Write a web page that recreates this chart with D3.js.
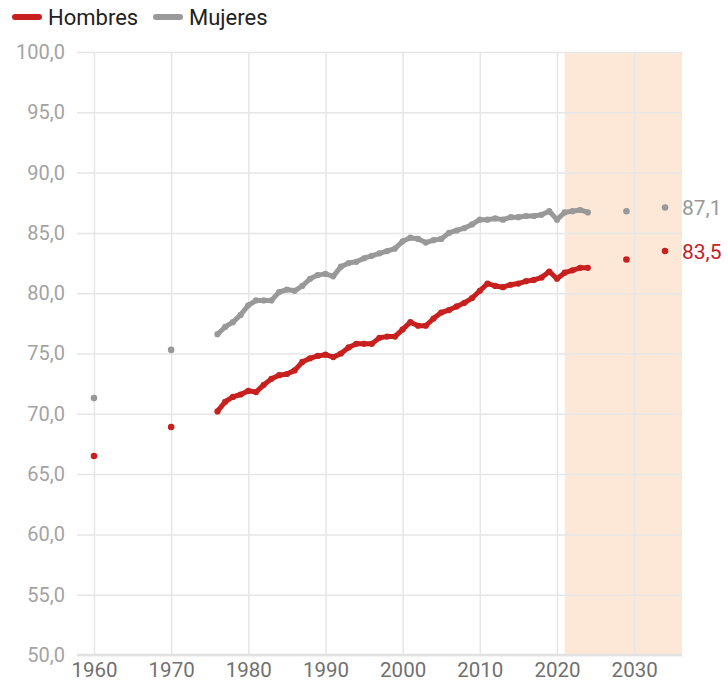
<!DOCTYPE html>
<html>
<head>
<meta charset="utf-8">
<script src="https://cdn.jsdelivr.net/npm/d3@7"></script>
<style>
  body { margin: 0; background: #fff; font-family: Roboto, "Noto Sans", sans-serif; }
</style>
</head>
<body>
<div id="chart"></div>
<script>
// Years of the continuous series
var years = d3.range(1976, 2025);
var hombres = [70.2, 71.0, 71.4, 71.6, 71.9, 71.8, 72.4, 72.9, 73.2, 73.3,
  73.6, 74.3, 74.6, 74.8, 74.9, 74.7, 75.0, 75.5, 75.8, 75.8,
  75.8, 76.3, 76.4, 76.4, 77.0, 77.6, 77.3, 77.3, 77.9, 78.4,
  78.6, 78.9, 79.2, 79.6, 80.2, 80.8, 80.6, 80.5, 80.7, 80.8,
  81.0, 81.1, 81.3, 81.8, 81.2, 81.7, 81.9, 82.1, 82.1];
var mujeres = [76.6, 77.2, 77.6, 78.2, 79.0, 79.4, 79.4, 79.4, 80.1, 80.3,
  80.2, 80.6, 81.2, 81.5, 81.6, 81.4, 82.2, 82.5, 82.6, 82.9,
  83.1, 83.3, 83.5, 83.7, 84.3, 84.6, 84.5, 84.2, 84.4, 84.5,
  85.0, 85.2, 85.4, 85.7, 86.1, 86.1, 86.2, 86.1, 86.3, 86.3,
  86.4, 86.4, 86.5, 86.8, 86.1, 86.7, 86.8, 86.9, 86.7];
// Isolated points (old censuses and projections)
var extraYears = [1960, 1970, 2029, 2034];
var hombresExtra = [66.5, 68.9, 82.8, 83.5];
var mujeresExtra = [71.3, 75.3, 86.8, 87.1];
var projectionStart = 2021;
var xTicks = [1960, 1970, 1980, 1990, 2000, 2010, 2020, 2030];
var yTicks = [50, 55, 60, 65, 70, 75, 80, 85, 90, 95, 100];

var colors = { hombres: "#c8201f", mujeres: "#999999" };
var width = 728, height = 693;

var svg = d3.select("#chart").append("svg")
  .attr("width", width)
  .attr("height", height);

var x = d3.scaleLinear().domain([1957.8, 2036.2]).range([77, 682]);
var y = d3.scaleLinear().domain([50, 100]).range([655, 52]);
var fmt = function(v) { return d3.format(".1f")(v).replace(".", ","); };

//Projection band
svg.append("rect")
  .attr("x", x(projectionStart))
  .attr("y", y(100))
  .attr("width", x.range()[1] - x(projectionStart))
  .attr("height", y(50) - y(100))
  .attr("fill", "#fde8d8");

//Gridlines via axes
var yAxis = d3.axisLeft(y).tickValues(yTicks).tickFormat(fmt)
  .tickSize(-(x.range()[1] - x.range()[0])).tickPadding(12);
var gy = svg.append("g")
  .attr("transform", "translate(" + x.range()[0] + ",0)")
  .call(yAxis);
gy.select(".domain").remove();
gy.selectAll("line").attr("stroke", "#e6e6e6").attr("stroke-width", 1.5);
gy.selectAll("text").attr("fill", "#a3a3a3").style("font-size", "20px")
  .style("font-family", "Roboto");

var xAxis = d3.axisBottom(x).tickValues(xTicks).tickFormat(d3.format("d"))
  .tickSize(-(y.range()[0] - y.range()[1])).tickPadding(7);
var gx = svg.append("g")
  .attr("transform", "translate(0," + y.range()[0] + ")")
  .call(xAxis);
gx.select(".domain").remove();
gx.selectAll("line").attr("stroke", "#e6e6e6").attr("stroke-width", 1.5);
gx.selectAll("text").attr("fill", "#707070").style("font-size", "20.5px")
  .style("font-family", "Roboto");

// bottom base line
svg.append("line")
  .attr("x1", x.range()[0]).attr("x2", x.range()[1])
  .attr("y1", y(50)).attr("y2", y(50))
  .attr("stroke", "#e2e2e2").attr("stroke-width", 2.5);

var series = [
  { key: "mujeres", values: mujeres, extra: mujeresExtra },
  { key: "hombres", values: hombres, extra: hombresExtra }
];

var line = d3.line()
  .x(function(d) { return x(d[0]); })
  .y(function(d) { return y(d[1]); });

series.forEach(function(s) {
  var pts = years.map(function(yr, i) { return [yr, s.values[i]]; });
  svg.append("path")
    .datum(pts)
    .attr("d", line)
    .attr("fill", "none")
    .attr("stroke", colors[s.key])
    .attr("stroke-width", 5)
    .attr("stroke-linejoin", "round");
  svg.selectAll(".dot-" + s.key)
    .data(pts)
    .enter().append("circle")
    .attr("cx", function(d) { return x(d[0]); })
    .attr("cy", function(d) { return y(d[1]); })
    .attr("r", 3.1)
    .attr("fill", colors[s.key]);
  svg.selectAll(".extra-" + s.key)
    .data(extraYears.map(function(yr, i) { return [yr, s.extra[i]]; }))
    .enter().append("circle")
    .attr("cx", function(d) { return x(d[0]); })
    .attr("cy", function(d) { return y(d[1]); })
    .attr("r", 3.3)
    .attr("fill", colors[s.key]);
  //End label
  var last = s.extra[s.extra.length - 1];
  svg.append("text")
    .attr("x", x(extraYears[extraYears.length - 1]) + 17)
    .attr("y", y(last))
    .attr("dy", "0.36em")
    .attr("fill", colors[s.key])
    .style("font-size", "21px")
    .style("font-family", "Roboto")
    .text(fmt(last));
});

//Legend
var legend = [
  { key: "hombres", label: "Hombres", x: 12 },
  { key: "mujeres", label: "Mujeres", x: 153 }
];
legend.forEach(function(l) {
  svg.append("line")
    .attr("x1", l.x + 3).attr("x2", l.x + 27)
    .attr("y1", 17).attr("y2", 17)
    .attr("stroke", colors[l.key])
    .attr("stroke-width", 6)
    .attr("stroke-linecap", "round");
  svg.append("text")
    .attr("x", l.x + 36)
    .attr("y", 25)
    .attr("fill", "#222")
    .style("font-size", "22px")
    .style("font-family", "Roboto")
    .text(l.label);
});
</script>
</body>
</html>
